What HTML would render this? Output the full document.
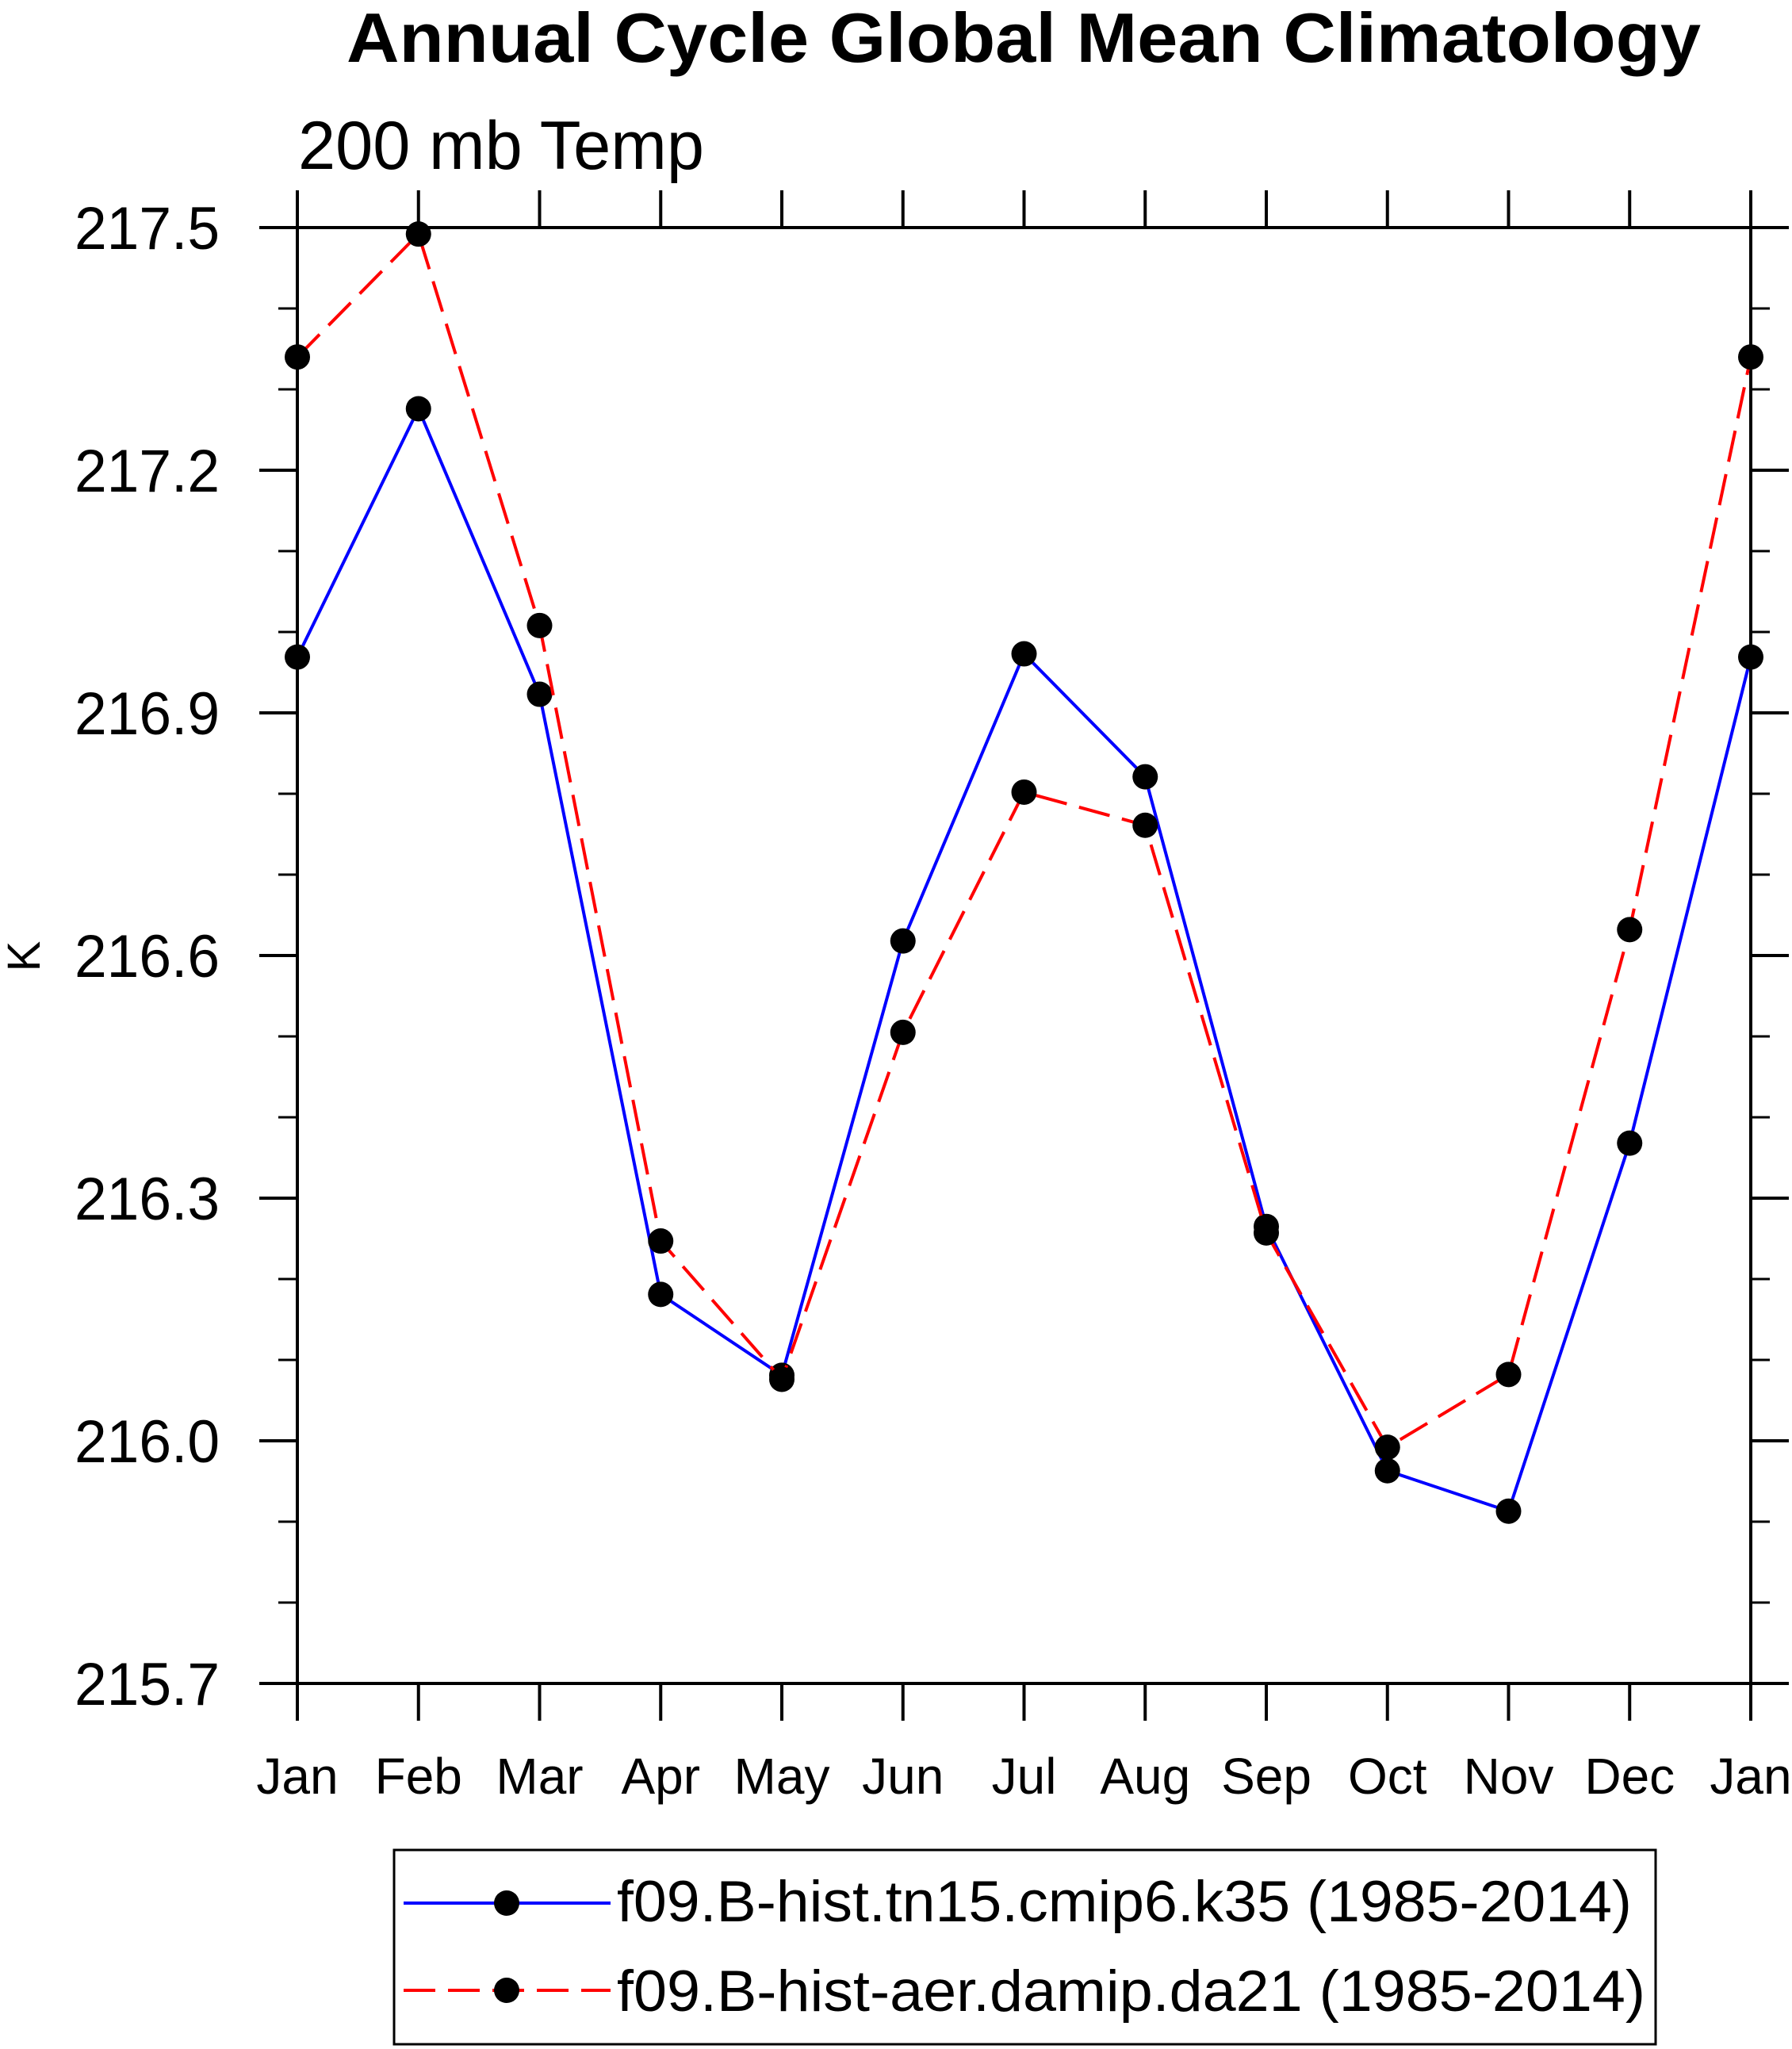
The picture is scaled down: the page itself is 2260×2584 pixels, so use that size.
<!DOCTYPE html>
<html><head><meta charset="utf-8"><style>
html,body{margin:0;padding:0;background:#fff;}
svg{display:block;}
text{font-family:"Liberation Sans",sans-serif;fill:#000;}
</style></head><body>
<svg id="chart" width="2260" height="2584" viewBox="0 0 2260 2584" xmlns="http://www.w3.org/2000/svg">
<text x="1291" y="78" text-anchor="middle" font-size="88" font-weight="bold" textLength="1708" lengthAdjust="spacingAndGlyphs">Annual Cycle Global Mean Climatology</text>
<text x="376" y="213" font-size="86" textLength="512" lengthAdjust="spacingAndGlyphs">200 mb Temp</text>
<text transform="translate(50,1206) rotate(-90)" text-anchor="middle" font-size="58">K</text>
<g id="axes"></g>
<g id="series"></g>
<rect x="497" y="2333" width="1591" height="245" fill="none" stroke="#000" stroke-width="3"/>
<g>
<line x1="509" y1="2400" x2="770" y2="2400" stroke="#0000ff" stroke-width="4"/>
<circle cx="639" cy="2400" r="16" fill="#000"/>
<text x="778" y="2423" font-size="73" textLength="1280" lengthAdjust="spacingAndGlyphs">f09.B-hist.tn15.cmip6.k35 (1985-2014)</text>
</g>
<g>
<line x1="509" y1="2510" x2="770" y2="2510" stroke="#ff0000" stroke-width="4" stroke-dasharray="40 16"/>
<circle cx="639" cy="2510" r="16" fill="#000"/>
<text x="778" y="2536" font-size="73" textLength="1297" lengthAdjust="spacingAndGlyphs">f09.B-hist-aer.damip.da21 (1985-2014)</text>
</g>
</svg>
<script>
const months = ["Jan","Feb","Mar","Apr","May","Jun","Jul","Aug","Sep","Oct","Nov","Dec","Jan"];
const blueValues = [216.969,217.276,216.923,216.181,216.081,216.618,216.973,216.821,216.265,215.963,215.913,216.368,216.969];
const redValues = [217.340,217.492,217.008,216.247,216.076,216.505,216.802,216.761,216.257,215.992,216.082,216.632,217.340];
const yTickLabels = ["215.7","216.0","216.3","216.6","216.9","217.2","217.5"];
const yMin = 215.7, yMax = 217.5;

const L = 375, R = 2208, T = 287, B = 2123;
const NS = "http://www.w3.org/2000/svg";
function xs(i){ return L + (R - L) * i / (months.length - 1); }
function ys(v){ return B - (B - T) * (v - yMin) / (yMax - yMin); }
function mk(tag, attrs, parent){
  const e = document.createElementNS(NS, tag);
  for (const k in attrs) e.setAttribute(k, attrs[k]);
  parent.appendChild(e);
  return e;
}
const axes = document.getElementById('axes');
const series = document.getElementById('series');
const frame = mk('rect', {x:L, y:T, width:R-L, height:B-T, fill:'none', stroke:'#000', 'stroke-width':4}, axes);


months.forEach((m, i) => {
  const x = xs(i);
  mk('line', {x1:x, y1:B, x2:x, y2:B+47, stroke:'#000', 'stroke-width':4}, axes);
  mk('line', {x1:x, y1:T, x2:x, y2:T-47, stroke:'#000', 'stroke-width':4}, axes);
  const t = mk('text', {x:x, y:2262, 'text-anchor':'middle', 'font-size':64}, axes);
  t.textContent = m;
  
  
});
yTickLabels.forEach(lbl => {
  const y = ys(parseFloat(lbl));
  mk('line', {x1:L-48, y1:y, x2:L, y2:y, stroke:'#000', 'stroke-width':4}, axes);
  mk('line', {x1:R, y1:y, x2:R+48, y2:y, stroke:'#000', 'stroke-width':4}, axes);
  const t = mk('text', {x:94, y:y+27, 'font-size':76, textLength:183, lengthAdjust:'spacingAndGlyphs'}, axes);
  t.textContent = lbl;
  
  
});
for (let v = yMin + 0.1; v < yMax - 0.01; v += 0.1) {
  const y = ys(v);
  mk('line', {x1:L-24, y1:y, x2:L, y2:y, stroke:'#000', 'stroke-width':3}, axes);
  mk('line', {x1:R, y1:y, x2:R+24, y2:y, stroke:'#000', 'stroke-width':3}, axes);
}
function drawSeries(vals, color, dash, name){
  const pts = vals.map((v, i) => xs(i) + ',' + ys(v)).join(' ');
  const pl = mk('polyline', {points:pts, fill:'none', stroke:color, 'stroke-width':4, 'stroke-dasharray':dash}, series);
  
  
  vals.forEach((v, i) => {
    const c = mk('circle', {cx:xs(i), cy:ys(v), r:16, fill:'#000'}, series);
    
    
  });
}
drawSeries(blueValues, '#0000ff', 'none', 'blue-series');
drawSeries(redValues, '#ff0000', '40 16', 'red-series');
</script>
</body></html>
